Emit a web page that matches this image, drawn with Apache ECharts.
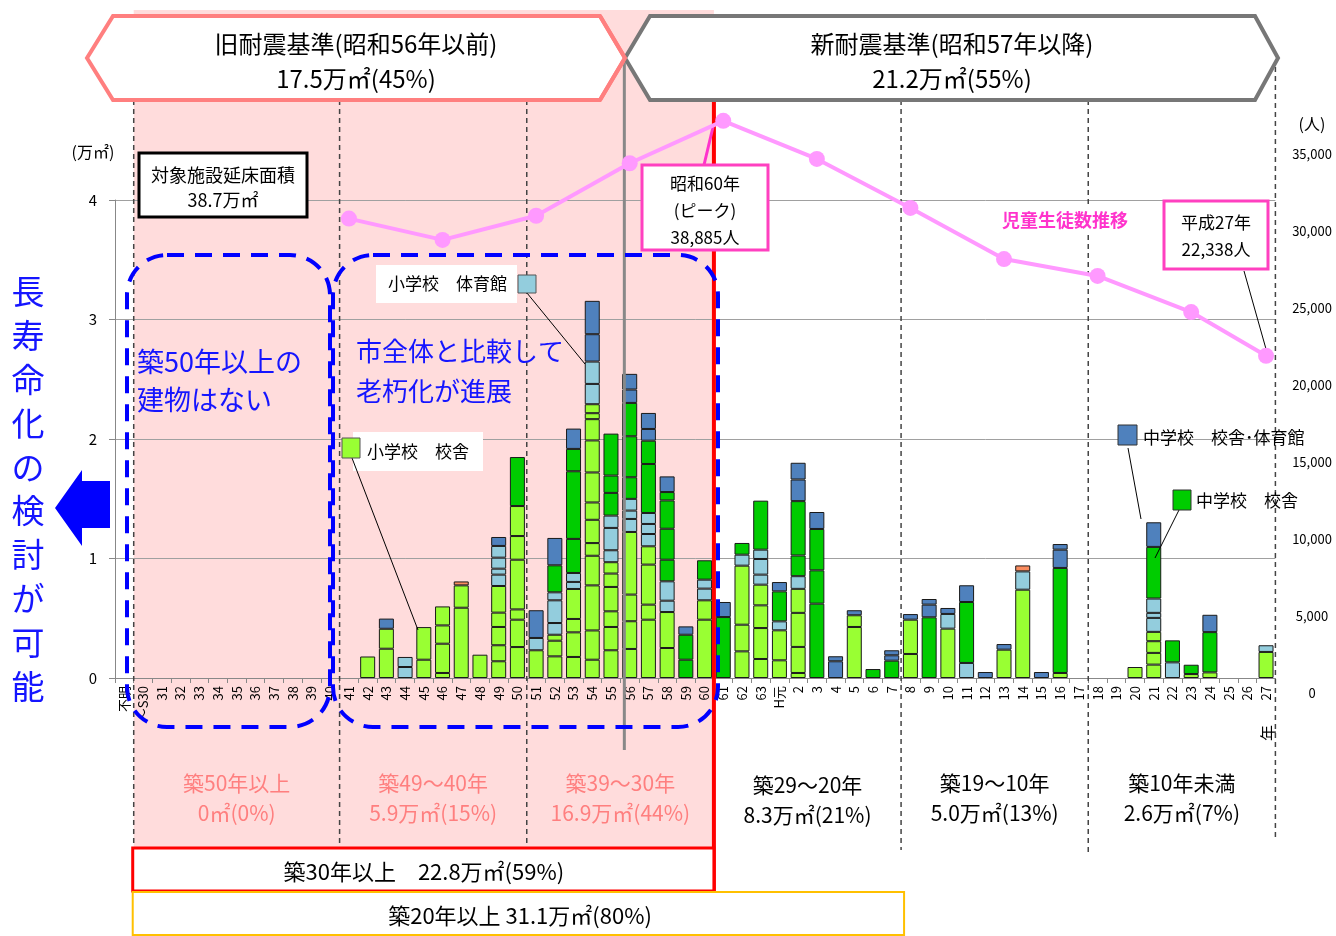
<!DOCTYPE html>
<html>
<head>
<meta charset="utf-8">
<script src="https://cdn.jsdelivr.net/npm/echarts@6/dist/echarts.min.js"></script>
<style>
  html, body { margin: 0; padding: 0; background: #fff; }
  #chart { width: 1336px; height: 936px; }
</style>
</head>
<body>
<div id="chart"></div>
<script>
const FONT = '"Noto Sans CJK JP", "Noto Sans", sans-serif';

// 建築年度（昭和 → 平成）
const categories = ['不明', '～S30', '31', '32', '33', '34', '35', '36', '37', '38', '39', '40',
  '41', '42', '43', '44', '45', '46', '47', '48', '49', '50', '51', '52', '53', '54', '55',
  '56', '57', '58', '59', '60', '61', '62', '63', 'H元', '2', '3', '4', '5', '6', '7', '8',
  '9', '10', '11', '12', '13', '14', '15', '16', '17', '18', '19', '20', '21', '22', '23',
  '24', '25', '26', '27'];

// 棟ごとの延床面積（万㎡）、下から順に積み上げ
const esSchool = [ // 小学校 校舎
  ['42', [0.18]], ['43', [0.245, 0.167]], ['45', [0.153, 0.273]],
  ['46', [0.042, 0.245, 0.153, 0.159]], ['47', [0.588, 0.187]], ['48', [0.195]],
  ['49', [0.14, 0.134, 0.153, 0.12, 0.223]], ['50', [0.259, 0.229, 0.086, 0.416, 0.198, 0.251]],
  ['51', [0.232]], ['52', [0.181, 0.131, 0.05]], ['53', [0.176, 0.206, 0.112, 0.251]],
  ['54', [0.153, 0.245, 0.377, 0.248, 0.106, 0.195, 0.145, 0.251, 0.268, 0.178, 0.05, 0.075]],
  ['55', [0.232, 0.195, 0.131, 0.204, 0.112, 0.095]], ['56', [0.243, 0.232, 0.223, 0.524]],
  ['57', [0.488, 0.126, 0.335, 0.153]], ['58', [0.251, 0.301]], ['60', [0.488, 0.162]],
  ['62', [0.223, 0.223, 0.494]], ['63', [0.159, 0.259, 0.19, 0.173]], ['H元', [0.148, 0.251]],
  ['2', [0.042, 0.218, 0.285, 0.201]], ['5', [0.427, 0.098]], ['8', [0.201, 0.287]],
  ['10', [0.413]], ['13', [0.237]], ['14', [0.739]], ['16', [0.042]], ['20', [0.092]],
  ['21', [0.112, 0.098, 0.098, 0.078]], ['23', [0.033]], ['24', [0.047]], ['27', [0.218]]
];
const esGym = [ // 小学校 体育館
  ['44', [0.092, 0.084]], ['49', [0.095, 0.05, 0.092, 0.098]], ['51', [0.103]],
  ['52', [0.098, 0.19, 0.067]], ['53', [0.059, 0.075]], ['54', [0.17, 0.187]],
  ['55', [0.1, 0.187, 0.103]], ['56', [0.109, 0.07, 0.098]], ['57', [0.103, 0.084, 0.092]],
  ['58', [0.095, 0.162]], ['60', [0.098, 0.075]], ['62', [0.092]], ['63', [0.084, 0.131, 0.078]],
  ['H元', [0.075]], ['2', [0.106]], ['10', [0.123]], ['11', [0.126]], ['14', [0.153]],
  ['21', [0.117, 0.042, 0.12]], ['22', [0.131]], ['27', [0.056]]
];
const jhsSchool = [ // 中学校 校舎
  ['50', [0.41]], ['52', [0.226]], ['53', [0.285, 0.566, 0.187]], ['55', [0.19, 0.145, 0.351]],
  ['56', [0.181, 0.343, 0.279]], ['57', [0.41, 0.195]], ['58', [0.181, 0.259, 0.237, 0.07]],
  ['59', [0.153, 0.209]], ['60', [0.162]], ['61', [0.51]], ['62', [0.098]], ['63', [0.41]],
  ['H元', [0.251]], ['2', [0.173, 0.455]], ['3', [0.622, 0.279, 0.346]], ['6', [0.075]],
  ['7', [0.145]], ['9', [0.508]], ['11', [0.51]], ['16', [0.879]], ['21', [0.432]],
  ['22', [0.184]], ['23', [0.078]], ['24', [0.337]]
];
const jhsGym = [ // 中学校 校舎・体育館
  ['43', [0.085]], ['49', [0.075]], ['51', [0.232]], ['52', [0.229]], ['53', [0.17]],
  ['54', [0.229, 0.279]], ['56', [0.112, 0.131]], ['57', [0.098, 0.134]], ['58', [0.131]],
  ['59', [0.07]], ['61', [0.126]], ['H元', [0.078]], ['2', [0.181, 0.14]], ['3', [0.142]],
  ['4', [0.14, 0.042]], ['5', [0.042]], ['7', [0.045, 0.042]], ['8', [0.047]],
  ['9', [0.106, 0.047]], ['10', [0.05]], ['11', [0.14]], ['12', [0.05]], ['13', [0.047]],
  ['15', [0.05]], ['16', [0.153, 0.047]], ['21', [0.206]], ['24', [0.145]]
];
const others = [['47', [0.033]], ['14', [0.05]]];

// 児童生徒数推移（人）
const studentYears = ['41', '46', '51', '56', '61', '3', '8', '13', '18', '23', '27'];
const studentCounts = [32000, 30500, 32200, 35900, 38885, 36200, 32750, 29150, 27960, 25420, 22338];

const idx = name => categories.indexOf(name);

function layerSeries(list, name, color) {
  const depth = Math.max(...list.map(d => d[1].length));
  const out = [];
  for (let j = 0; j < depth; j++) {
    const data = categories.map(() => '-');
    list.forEach(([c, segs]) => { if (segs[j] != null) data[idx(c)] = segs[j]; });
    out.push({
      name: name, type: 'bar', stack: 'area', barWidth: 15,
      xAxisIndex: 0, yAxisIndex: 0, data: data,
      itemStyle: { color: color, borderColor: '#1a1a1a', borderWidth: 1 },
      emphasis: { disabled: true }
    });
  }
  return out;
}

const barSeries = [].concat(
  layerSeries(esSchool, '小学校 校舎', '#99FF33'),
  layerSeries(esGym, '小学校 体育館', '#93CDDD'),
  layerSeries(jhsSchool, '中学校 校舎', '#00CC00'),
  layerSeries(jhsGym, '中学校 校舎・体育館', '#4F81BD'),
  layerSeries(others, 'その他', '#FA8C5F')
);

const chart = echarts.init(document.getElementById('chart'));
chart.setOption({
  animation: false,
  textStyle: { fontFamily: FONT },
  grid: [
    { left: 115, right: 60.6, top: 200, bottom: 258 },
    { left: 115, right: 60.6, top: 105, bottom: 263 },
    { left: 1200, right: 56, top: 154, bottom: 243 }
  ],
  xAxis: [
    {
      type: 'category', gridIndex: 0, data: categories,
      axisLine: { lineStyle: { color: '#888' } },
      axisTick: { show: true, length: 5, lineStyle: { color: '#888' } },
      axisLabel: { interval: 0, rotate: 90, fontSize: 13, color: '#000', margin: 8, fontFamily: FONT }
    },
    { type: 'category', gridIndex: 1, data: categories, show: false },
    { type: 'value', gridIndex: 2, show: false }
  ],
  yAxis: [
    {
      type: 'value', gridIndex: 0, min: 0, max: 4, interval: 1,
      axisLine: { show: true, lineStyle: { color: '#888' } },
      axisTick: { show: true, length: 6, lineStyle: { color: '#888' } },
      axisLabel: { fontSize: 15, color: '#000', margin: 18, fontFamily: FONT },
      splitLine: { lineStyle: { color: '#a0a0a0' } }
    },
    { type: 'value', gridIndex: 1, min: 0, max: 40000, show: false },
    {
      type: 'value', gridIndex: 2, position: 'right', min: 0, max: 35000, interval: 5000,
      axisLine: { show: false }, axisTick: { show: false }, splitLine: { show: false },
      axisLabel: {
        fontSize: 13, color: '#000', align: 'center', margin: 32, fontFamily: FONT,
        formatter: v => v.toLocaleString('en-US')
      }
    }
  ],
  series: barSeries.concat([{
    name: '児童生徒数推移', type: 'line', xAxisIndex: 1, yAxisIndex: 1, z: 20,
    data: studentYears.map((c, i) => [idx(c), studentCounts[i]]),
    symbol: 'circle', symbolSize: 16, showAllSymbol: true,
    lineStyle: { color: '#FF99FF', width: 4 },
    itemStyle: { color: '#FF99FF' },
    emphasis: { disabled: true }
  }])
});

// 注記類（区切り位置はカテゴリ軸から算出）
const px = i => chart.convertToPixel({ xAxisIndex: 0 }, i);
const bw = px(1) - px(0);
const edge = name => px(idx(name)) + bw / 2;
const xStart = edge('不明'), x40 = edge('40'), x50 = edge('50'), x60 = edge('60');
const xH7 = edge('7'), xH17 = edge('17'), xEnd = edge('27');
const xGray = edge('55') + 4;

const txt = (x, y, text, o) => Object.assign({
  type: 'text', x: x, y: y, z: 12,
  style: Object.assign({ text: text, fill: '#000', fontSize: 17, fontFamily: FONT, align: 'center', verticalAlign: 'middle' }, (o && o.style) || {})
}, o && o.rotation ? { rotation: o.rotation } : {});
const line = (x1, y1, x2, y2, stroke, w, dash) => ({
  type: 'line', z: 11, shape: { x1: x1, y1: y1, x2: x2, y2: y2 },
  style: { stroke: stroke, lineWidth: w, lineDash: dash || null }
});
const box = (x, y, w, h, stroke, lw, fill, r, dash) => ({
  type: 'rect', z: 11, shape: { x: x, y: y, width: w, height: h, r: r || 0 },
  style: { fill: fill || 'none', stroke: stroke, lineWidth: lw, lineDash: dash || null }
});
const dash = [5, 4];
const blueDash = [17, 11];

const g = [
  { type: 'rect', z: -1, shape: { x: xStart, y: 10, width: x60 - xStart, height: 840 }, style: { fill: '#FFDCDC' } },
  line(xStart, 100, xStart, 850, '#444', 1.5, dash),
  line(x40, 100, x40, 850, '#444', 1.5, dash),
  line(x50, 100, x50, 850, '#444', 1.5, dash),
  line(xH7, 100, xH7, 850, '#444', 1.5, dash),
  line(xH17, 100, xH17, 855, '#444', 1.5, dash),
  line(xEnd, 58, xEnd, 840, '#444', 1.5, dash),
  line(xGray, 58, xGray, 750, '#888', 3),
  line(x60, 100, x60, 891, '#FF0000', 4),

  // 耐震基準の見出し
  { type: 'polygon', z: 11, shape: { points: [[87, 58], [113, 16], [600, 16], [625, 58], [600, 100], [113, 100]] },
    style: { fill: '#fff', stroke: '#FF7F7F', lineWidth: 4 } },
  { type: 'polygon', z: 11, shape: { points: [[625, 58], [650, 16], [1255, 16], [1278, 58], [1255, 100], [650, 100]] },
    style: { fill: '#fff', stroke: '#777', lineWidth: 4 } },
  { type: 'polyline', z: 11, shape: { points: [[600, 16], [625, 58], [600, 100]] }, style: { stroke: '#FF7F7F', lineWidth: 4, fill: 'none' } },
  txt(356, 44, '旧耐震基準(昭和56年以前)', { style: { fontSize: 24 } }),
  txt(356, 79, '17.5万㎡(45%)', { style: { fontSize: 24 } }),
  txt(952, 44, '新耐震基準(昭和57年以降)', { style: { fontSize: 24 } }),
  txt(952, 79, '21.2万㎡(55%)', { style: { fontSize: 24 } }),

  // 築年数区分
  txt((xStart + x40) / 2, 798, '築50年以上\n0㎡(0%)', { style: { fontSize: 21, lineHeight: 30, fill: '#FF7F7F' } }),
  txt((x40 + x50) / 2, 798, '築49～40年\n5.9万㎡(15%)', { style: { fontSize: 21, lineHeight: 30, fill: '#FF7F7F' } }),
  txt((x50 + x60) / 2, 798, '築39～30年\n16.9万㎡(44%)', { style: { fontSize: 21, lineHeight: 30, fill: '#FF7F7F' } }),
  txt((x60 + xH7) / 2, 800, '築29～20年\n8.3万㎡(21%)', { style: { fontSize: 21, lineHeight: 30 } }),
  txt((xH7 + xH17) / 2, 798, '築19～10年\n5.0万㎡(13%)', { style: { fontSize: 21, lineHeight: 30 } }),
  txt((xH17 + xEnd) / 2, 798, '築10年未満\n2.6万㎡(7%)', { style: { fontSize: 21, lineHeight: 30 } }),
  txt(1268, 733, '年', { style: { fontSize: 16 }, rotation: Math.PI / 2 }),

  // 下部の集計枠
  box(xStart - 1, 848, x60 - xStart + 1, 43, '#FF0000', 3, '#fff'),
  txt((xStart + x60) / 2, 872, '築30年以上　22.8万㎡(59%)', { style: { fontSize: 22 } }),
  box(xStart - 1, 892, xH7 + 4 - xStart, 43, '#FFC000', 2, '#fff'),
  txt(520, 916, '築20年以上 31.1万㎡(80%)', { style: { fontSize: 22 } }),

  // 青の強調
  box(127, 255, 203, 472, '#0000FF', 4, 'none', 40, blueDash),
  box(333, 255, 385, 472, '#0000FF', 4, 'none', 40, blueDash),
  txt(137, 381, '築50年以上の\n建物はない', { style: { fontSize: 27, lineHeight: 38, fill: '#1515FF', align: 'left' } }),
  txt(356, 371, '市全体と比較して\n老朽化が進展', { style: { fontSize: 26, lineHeight: 40, fill: '#1515FF', align: 'left' } }),
  txt(28, 270, '長\n寿\n命\n化\nの\n検\n討\nが\n可\n能', { style: { fontSize: 33, lineHeight: 43.8, fill: '#1515FF', verticalAlign: 'top' } }),
  { type: 'polygon', z: 11, shape: { points: [[55, 508], [82, 470], [82, 481], [110, 481], [110, 528], [82, 528], [82, 546]] },
    style: { fill: '#0000FF' } },

  // 凡例代わりの注記
  box(139, 153, 168, 64, '#000', 3, '#fff'),
  txt(223, 188, '対象施設延床面積\n38.7万㎡', { style: { fontSize: 18, lineHeight: 25 } }),
  box(376, 265, 141, 38, null, 0, '#fff'),
  txt(388, 284, '小学校　体育館', { style: { align: 'left' } }),
  line(527, 293, 585, 364, '#000', 1),
  box(518, 275, 18, 18, '#555', 1, '#93CDDD'),
  box(353, 432, 130, 39, null, 0, '#fff'),
  txt(367, 452, '小学校　校舎', { style: { align: 'left' } }),
  line(352, 458, 418, 630, '#000', 1),
  box(342, 438, 18, 20, '#555', 1, '#99FF33'),
  txt(1143, 438, '中学校　校舎･体育館', { style: { align: 'left' } }),
  line(1128, 448, 1141, 519, '#000', 1),
  box(1118, 425, 19, 20, '#333', 1, '#4F81BD'),
  txt(1196, 501, '中学校　校舎', { style: { align: 'left' } }),
  line(1179, 510, 1155, 558, '#000', 1),
  box(1173, 490, 18, 20, '#333', 1, '#00CC00'),

  // 児童生徒数の注記
  line(704, 165, 713, 127, '#FF33CC', 3),
  box(642, 165, 126, 85, '#FF40C0', 3, '#fff'),
  txt(705, 211, '昭和60年\n(ピーク)\n38,885人', { style: { lineHeight: 27 } }),
  line(1244, 271, 1266, 349, '#000', 1),
  box(1164, 201, 104, 68, '#FF40C0', 3, '#fff'),
  txt(1216, 236, '平成27年\n22,338人', { style: { lineHeight: 27 } }),
  txt(1065, 220, '児童生徒数推移', { style: { fontSize: 18, fontWeight: 'bold', fill: '#FF33CC', backgroundColor: '#fff', padding: [3, 8] } }),

  // 軸の単位
  txt(93, 152, '(万㎡)', { style: { fontSize: 16 } }),
  txt(1312, 124, '(人)', { style: { fontSize: 16 } })
];

chart.setOption({ graphic: g });
</script>
</body>
</html>
